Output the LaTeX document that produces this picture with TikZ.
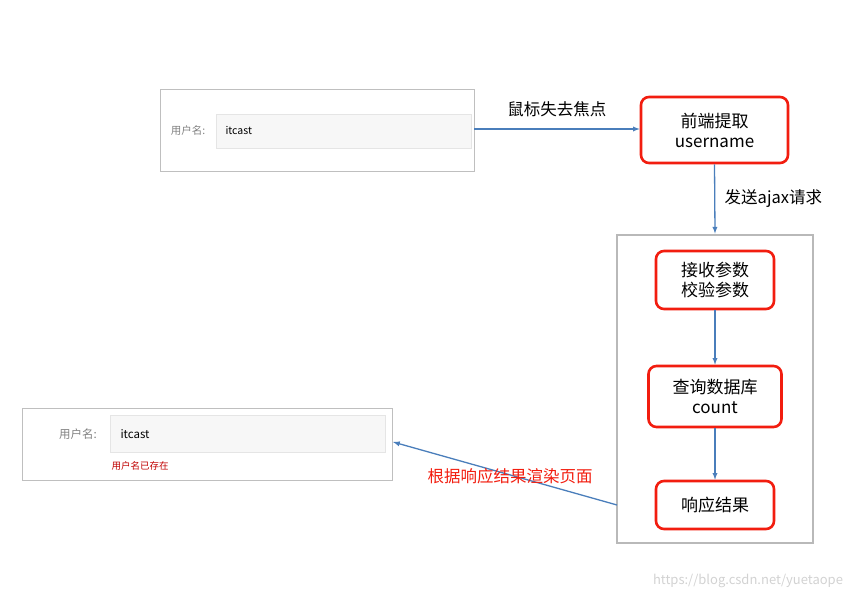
\documentclass[tikz,border=0pt]{standalone}
\usepackage{fontspec}
\setmainfont{Noto Sans CJK SC}
\definecolor{arrblue}{HTML}{4A7EBB}
\definecolor{boxred}{HTML}{F21D0F}
\begin{document}
\begin{tikzpicture}[x=1pt,y=-1pt,
  rbox/.style={draw=boxred,line width=2.6pt,rounded corners=8pt,fill=white,font=\fontsize{17}{20}\selectfont,align=center},
  arr/.style={-latex,draw=arrblue,line width=1.3pt},
  form/.style={draw=gray!50,line width=1pt},
  field/.style={draw=gray!20,fill=gray!6},
  lbl/.style={font=\fontsize{16.5}{19}\selectfont}]
\useasboundingbox (0,0) rectangle (864,601);
% top form
\node[form,minimum width=314pt,minimum height=82pt,inner sep=0] (f1) at (317,131) {};
\node[field,minimum width=255pt,minimum height=34pt,inner sep=0] (i1) at (343.5,131) {};
\node[font=\fontsize{10.5}{12}\selectfont,text=gray] (l1) at (188,131) {用户名:};
\node[font=\fontsize{10.5}{12}\selectfont,anchor=west] (t1) at (222,131) {itcast};
% boxes
\node[rbox,minimum width=147pt,minimum height=66pt] (a) at (714.5,130) {前端提取\\username};
\node[draw=gray!55,line width=2.8pt,minimum width=196pt,minimum height=308pt,inner sep=0] (c) at (715,389) {};
\node[rbox,minimum width=118pt,minimum height=58pt] (b) at (715,280) {接收参数\\校验参数};
\node[rbox,minimum width=133pt,minimum height=61pt] (q) at (715,396.5) {查询数据库\\count};
\node[rbox,minimum width=118pt,minimum height=48pt] (d) at (715,505) {响应结果};
% bottom form
\node[form,minimum width=370pt,minimum height=72pt,inner sep=0] (f2) at (207,444) {};
\node[field,minimum width=275pt,minimum height=37pt,inner sep=0] (i2) at (247.5,433.5) {};
\node[font=\fontsize{11.5}{13}\selectfont,text=gray] (l2) at (78,434) {用户名:};
\node[font=\fontsize{11.5}{13}\selectfont,anchor=west] (t2) at (117,434) {itcast};
\node[font=\fontsize{9.5}{11}\selectfont,text=red!75!black,anchor=west] (e2) at (108,466) {用户名已存在};
% arrows
\coordinate (s1) at (474,129);
\draw[arr] (s1) -- (a.west |- s1) node[midway,above=8pt,lbl,text=black] (m1) {鼠标失去焦点};
\draw[arr] (a.south) -- (c.north) node[midway,right=6pt,lbl,text=black] (m2) {发送ajax请求};
\draw[arr] (b.south) -- (q.north);
\draw[arr] (q.south) -- (d.north);
\coordinate (s2) at (617,505);
\coordinate (e2p) at (393,442);
\draw[arr] (s2) -- (e2p);
\node[lbl,text=boxred] (m3) at (510,476) {根据响应结果渲染页面};
\node[font=\fontsize{13}{15}\selectfont,text=gray!35] (w) at (748,581) {https://blog.csdn.net/yuetaope};
\end{tikzpicture}
\end{document}
